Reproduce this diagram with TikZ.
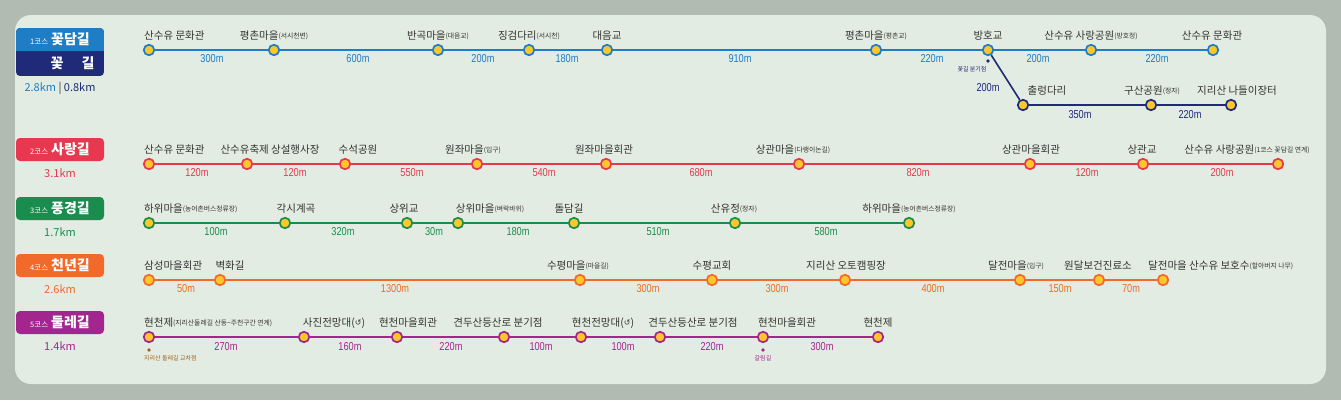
\documentclass[tikz,border=0pt]{standalone}
\usepackage{fontspec}
\setmainfont{Noto Sans CJK KR}
\newfontfamily\krfont{Noto Sans CJK KR}
\newfontfamily\distfnt{Liberation Sans}[FakeStretch=0.8]
\newfontfamily\dvfont{DejaVu Sans}
\definecolor{cblue}{HTML}{1E7DC4}
\definecolor{cnavy}{HTML}{1F2A78}
\definecolor{cred}{HTML}{E8384F}
\definecolor{cgreen}{HTML}{1A8C4E}
\definecolor{corange}{HTML}{F26A2B}
\definecolor{cpurple}{HTML}{A3268E}
\definecolor{cyel}{HTML}{FDC72C}
\definecolor{ctxt}{HTML}{333333}
\definecolor{cpanel}{HTML}{E2ECE2}
\definecolor{cframe}{HTML}{B1BBB1}
\definecolor{cbrown}{HTML}{A0601E}
\newcommand\smp[1]{\raisebox{0.8pt}{\fontsize{6.8}{7}\selectfont(#1)}}
\newcommand\rot{(\raisebox{0.5pt}{\dvfont\fontsize{8}{8}\selectfont ↺})}
\tikzset{
  stn/.style={circle, draw=#1, fill=cyel, line width=1.7pt, minimum size=10.5pt, inner sep=0pt},
  seg/.style={draw=#1, line width=2.3pt},
  lbl/.style={anchor=base, font=\krfont\fontsize{10.5}{10.5}\selectfont, text=ctxt, inner sep=0pt},
  lblw/.style={lbl, anchor=base west},
  dst/.style={anchor=center, font=\distfnt\fontsize{11.5}{11.5}\selectfont, text=#1, inner sep=0pt},
  kmtxt/.style={anchor=center, font=\krfont\fontsize{11}{11}\selectfont, text=#1, inner sep=0pt},
  ttl/.style={anchor=center, text=white, inner sep=0pt, font=\krfont},
  tiny/.style={anchor=center, font=\krfont\fontsize{6}{6}\selectfont, text=#1, inner sep=0pt},
}
\newcommand\ttltext[2]{{\fontsize{7.5}{7.5}\selectfont #1}\hspace{3pt}{\bfseries\fontsize{14}{14}\selectfont #2}}
\begin{document}
\begin{tikzpicture}[x=1pt,y=-1pt]
\useasboundingbox (0,0) rectangle (1341,400);
\fill[cframe] (0,0) rectangle (1341,400);
\fill[cpanel, rounded corners=16pt] (15,15) rectangle (1326,384);

% ---------- course boxes ----------
\begin{scope}
\clip[rounded corners=4pt] (16,28) rectangle (104,76);
\fill[cnavy] (16,28) rectangle (104,76);
\fill[cblue] (16,28) rectangle (104,51);
\end{scope}
\node[ttl] (t1) at (60,39) {\ttltext{1코스}{꽃담길}};
\node[ttl, font=\krfont\bfseries\fontsize{14}{14}\selectfont] (t1a) at (57,63) {꽃};
\node[ttl, font=\krfont\bfseries\fontsize{14}{14}\selectfont] (t1b) at (88,63) {길};
\node[kmtxt=cblue] (k1) at (60,88) {2.8km \textcolor{ctxt}{|} \textcolor{cnavy}{0.8km}};

\fill[cred, rounded corners=4pt] (16,138) rectangle (104,161);
\node[ttl] (t2) at (60,149.5) {\ttltext{2코스}{사랑길}};
\node[kmtxt=cred] (k2) at (60,173) {3.1km};

\fill[cgreen, rounded corners=4pt] (16,197) rectangle (104,220);
\node[ttl] (t3) at (60,208.5) {\ttltext{3코스}{풍경길}};
\node[kmtxt=cgreen] (k3) at (60,232) {1.7km};

\fill[corange, rounded corners=4pt] (16,254) rectangle (104,277);
\node[ttl] (t4) at (60,265.5) {\ttltext{4코스}{천년길}};
\node[kmtxt=corange] (k4) at (60,289) {2.6km};

\fill[cpurple, rounded corners=4pt] (16,311) rectangle (104,334);
\node[ttl] (t5) at (60,322.5) {\ttltext{5코스}{둘레길}};
\node[kmtxt=cpurple] (k5) at (60,346) {1.4km};

% ---------- course 1 ----------
\foreach \n/\x in {1/149,2/274,3/438,4/529,5/607,6/876,7/988,8/1091,9/1213}
  \node[stn=cblue] (a\n) at (\x,50) {};
\foreach \n/\x in {1/1023,2/1151,3/1231}
  \node[stn=cnavy] (b\n) at (\x,105) {};
\draw[seg=cblue] (a1)--(a2)--(a3)--(a4)--(a5)--(a6)--(a7)--(a8)--(a9);
\draw[seg=cnavy, line width=1.6pt] (a7)--(b1);
\draw[seg=cnavy] (b1)--(b2)--(b3);
\node[lblw] (la1) at (144,39) {산수유 문화관};
\node[lbl] (la2) at (274,39) {평촌마을\smp{서시천변}};
\node[lbl] (la3) at (438,39) {반곡마을\smp{대음교}};
\node[lbl] (la4) at (529,39) {징검다리\smp{서시천}};
\node[lbl] (la5) at (607,39) {대음교};
\node[lbl] (la6) at (876,39) {평촌마을\smp{평촌교}};
\node[lbl] (la7) at (988,39) {방호교};
\node[lbl] (la8) at (1091,39) {산수유 사랑공원\smp{방호정}};
\node[lbl] (la9) at (1212,39) {산수유 문화관};
\node[lbl] (lb1) at (1047,94) {출렁다리};
\node[lbl] (lb2) at (1152,94) {구산공원\smp{정자}};
\node[lbl] (lb3) at (1237,94) {지리산 나들이장터};
\node[dst=cblue] (da1) at (212,59) {300m};
\node[dst=cblue] (da2) at (358,59) {600m};
\node[dst=cblue] (da3) at (483,59) {200m};
\node[dst=cblue] (da4) at (567,59) {180m};
\node[dst=cblue] (da5) at (740,59) {910m};
\node[dst=cblue] (da6) at (932,59) {220m};
\node[dst=cblue] (da7) at (1038,59) {200m};
\node[dst=cblue] (da8) at (1157,59) {220m};
\node[dst=cnavy] (db1) at (988,88) {200m};
\node[dst=cnavy] (db2) at (1080,115) {350m};
\node[dst=cnavy] (db3) at (1190,115) {220m};
\fill[cnavy] (988,61) circle (1.8pt);
\node[tiny=cnavy] (fb) at (972,69) {꽃길 분기점};

% ---------- course 2 ----------
\foreach \n/\x in {1/149,2/247,3/345,4/477,5/606,6/799,7/1030,8/1143,9/1278}
  \node[stn=cred] (r\n) at (\x,164) {};
\draw[seg=cred] (r1)--(r2)--(r3)--(r4)--(r5)--(r6)--(r7)--(r8)--(r9);
\node[lblw] (lr1) at (144,153) {산수유 문화관};
\node[lbl] (lr2) at (270,153) {산수유축제 상설행사장};
\node[lbl] (lr3) at (358,153) {수석공원};
\node[lbl] (lr4) at (473,153) {원좌마을\smp{입구}};
\node[lbl] (lr5) at (604,153) {원좌마을회관};
\node[lbl] (lr6) at (793,153) {상관마을\smp{다랭이논길}};
\node[lbl] (lr7) at (1031,153) {상관마을회관};
\node[lbl] (lr8) at (1142,153) {상관교};
\node[lbl] (lr9) at (1247,153) {산수유 사랑공원\smp{1코스 꽃담길 연계}};
\node[dst=cred] (dr1) at (197,173) {120m};
\node[dst=cred] (dr2) at (295,173) {120m};
\node[dst=cred] (dr3) at (412,173) {550m};
\node[dst=cred] (dr4) at (544,173) {540m};
\node[dst=cred] (dr5) at (701,173) {680m};
\node[dst=cred] (dr6) at (918,173) {820m};
\node[dst=cred] (dr7) at (1087,173) {120m};
\node[dst=cred] (dr8) at (1222,173) {200m};

% ---------- course 3 ----------
\foreach \n/\x in {1/149,2/285,3/407,4/458,5/574,6/735,7/909}
  \node[stn=cgreen] (g\n) at (\x,223) {};
\draw[seg=cgreen] (g1)--(g2)--(g3)--(g4)--(g5)--(g6)--(g7);
\node[lblw] (lg1) at (144,212) {하위마을\smp{농어촌버스정류장}};
\node[lbl] (lg2) at (296,212) {각시계곡};
\node[lbl] (lg3) at (404,212) {상위교};
\node[lbl] (lg4) at (490,212) {상위마을\smp{벼락바위}};
\node[lbl] (lg5) at (569,212) {돌담길};
\node[lbl] (lg6) at (734,212) {산유정\smp{정자}};
\node[lbl] (lg7) at (909,212) {하위마을\smp{농어촌버스정류장}};
\node[dst=cgreen] (dg1) at (216,232) {100m};
\node[dst=cgreen] (dg2) at (343,232) {320m};
\node[dst=cgreen] (dg3) at (434,232) {30m};
\node[dst=cgreen] (dg4) at (518,232) {180m};
\node[dst=cgreen] (dg5) at (658,232) {510m};
\node[dst=cgreen] (dg6) at (826,232) {580m};

% ---------- course 4 ----------
\foreach \n/\x in {1/149,2/220,3/580,4/712,5/845,6/1020,7/1099,8/1163}
  \node[stn=corange] (o\n) at (\x,280) {};
\draw[seg=corange] (o1)--(o2)--(o3)--(o4)--(o5)--(o6)--(o7)--(o8);
\node[lblw] (lo1) at (144,269) {삼성마을회관};
\node[lbl] (lo2) at (230,269) {벽화길};
\node[lbl] (lo3) at (578,269) {수평마을\smp{마을길}};
\node[lbl] (lo4) at (712,269) {수평교회};
\node[lbl] (lo5) at (846,269) {지리산 오토캠핑장};
\node[lbl] (lo6) at (1016,269) {달전마을\smp{입구}};
\node[lbl] (lo7) at (1098,269) {원달보건진료소};
\node[lblw] (lo8) at (1148,269) {달전마을 산수유 보호수\smp{할아버지 나무}};
\node[dst=corange] (do1) at (186,289) {50m};
\node[dst=corange] (do2) at (395,289) {1300m};
\node[dst=corange] (do3) at (648,289) {300m};
\node[dst=corange] (do4) at (777,289) {300m};
\node[dst=corange] (do5) at (933,289) {400m};
\node[dst=corange] (do6) at (1060,289) {150m};
\node[dst=corange] (do7) at (1131,289) {70m};

% ---------- course 5 ----------
\foreach \n/\x in {1/149,2/304,3/397,4/504,5/581,6/660,7/763,8/878}
  \node[stn=cpurple] (p\n) at (\x,337) {};
\draw[seg=cpurple] (p1)--(p2)--(p3)--(p4)--(p5)--(p6)--(p7)--(p8);
\node[lblw] (lp1) at (144,326) {현천제\smp{지리산둘레길 산동\textasciitilde 주천구간 연계}};
\node[lbl] (lp2) at (334,326) {사진전망대\rot};
\node[lbl] (lp3) at (408,326) {현천마을회관};
\node[lbl] (lp4) at (498,326) {견두산등산로 분기점};
\node[lbl] (lp5) at (603,326) {현천전망대\rot};
\node[lbl] (lp6) at (693,326) {견두산등산로 분기점};
\node[lbl] (lp7) at (787,326) {현천마을회관};
\node[lbl] (lp8) at (878,326) {현천제};
\node[dst=cpurple] (dp1) at (226,347) {270m};
\node[dst=cpurple] (dp2) at (350,347) {160m};
\node[dst=cpurple] (dp3) at (451,347) {220m};
\node[dst=cpurple] (dp4) at (541,347) {100m};
\node[dst=cpurple] (dp5) at (623,347) {100m};
\node[dst=cpurple] (dp6) at (712,347) {220m};
\node[dst=cpurple] (dp7) at (822,347) {300m};
\fill[cbrown] (149,350) circle (1.8pt);
\node[tiny=cbrown, anchor=west] (cx) at (144,358) {지리산 둘레길 교차점};
\fill[cpurple] (763,350) circle (1.8pt);
\node[tiny=cpurple] (gr) at (763,358) {갈림길};
\end{tikzpicture}
\end{document}
